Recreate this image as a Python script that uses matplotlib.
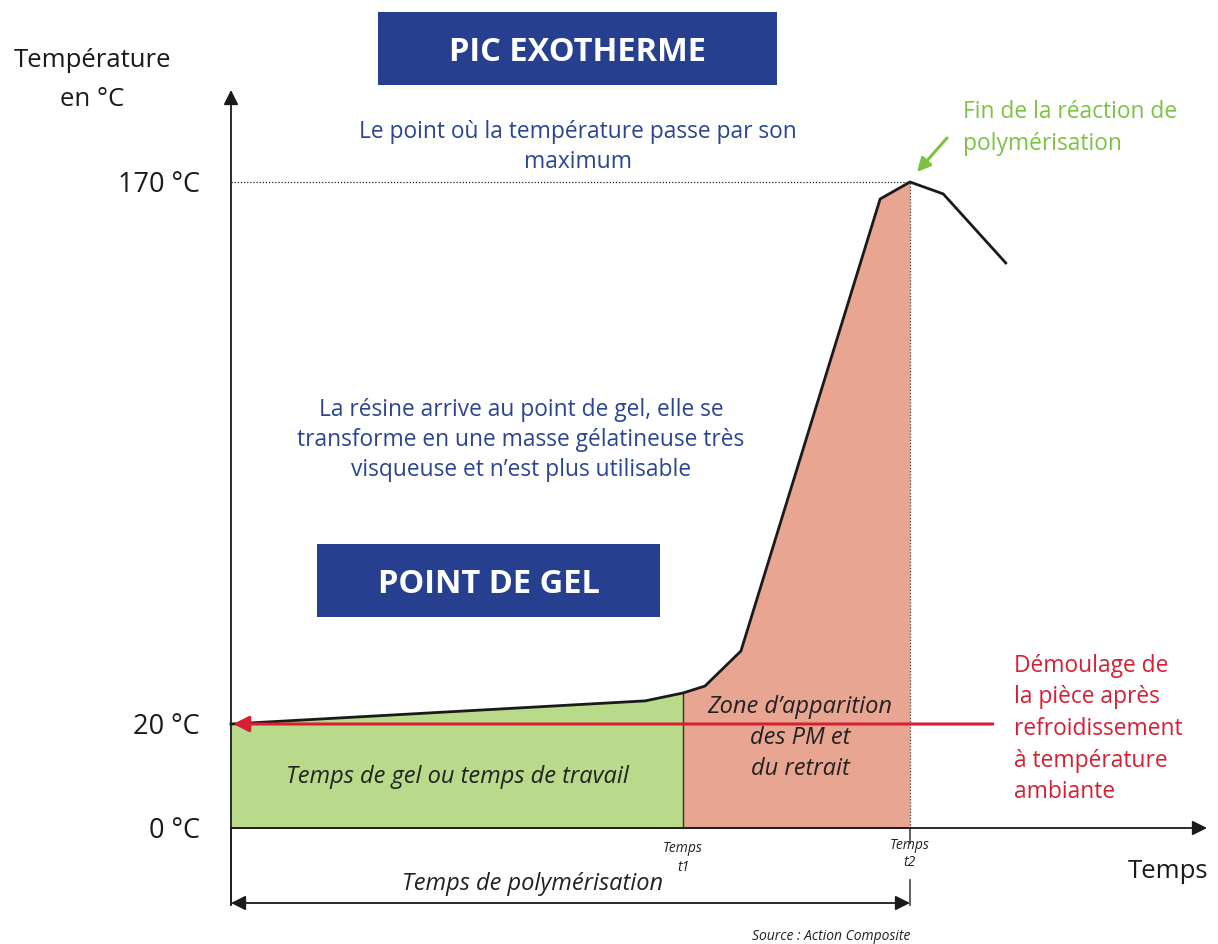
import matplotlib
matplotlib.use("Agg")
import matplotlib.pyplot as plt
from matplotlib.patches import Rectangle
from matplotlib.transforms import offset_copy
import numpy as np

# courbe de température (temps en unités arbitraires, t2 = 100)
temps = [0, 61.0, 66.6, 69.8, 75.1, 95.6, 100, 104.9, 114.1]
temperature = [20, 26.4, 28.6, 30.5, 40.2, 165.3, 170, 166.7, 147.6]
t1 = 66.6
t2 = 100
t_demoulage = 112.2
graduations = [0, 20, 170]
graduations_labels = ["0 °C", "20 °C", "170 °C"]
T_ambiante = 20
T_pic = 170

W, H = 1218, 944
BLEU = "#263f8e"
BLEU_TXT = "#2b4592"
VERT = "#7dc242"
ROUGE = "#d71f33"
FOND_VERT = "#b9d98b"
FOND_SAUMON = "#e8a592"
GRIS = "#555555"

plt.rcParams['font.family'] = ['Open Sans', 'DejaVu Sans']


# échelle non linéaire (le schéma n'est pas à l'échelle)
def forward(T):
    T = np.asarray(T, dtype=float)
    return np.where(T < 20, T * 5.2, 104 + (T - 20) * 542 / 150)


def inverse(p):
    p = np.asarray(p, dtype=float)
    return np.where(p < 104, p / 5.2, 20 + (p - 104) * 150 / 542)


def px(x, y):
    # position en pixels de la figure -> coordonnées figure
    return (x / W, 1 - y / H)


fig = plt.figure(figsize=(W / 100, H / 100), dpi=100)
ax = fig.add_axes([0, 0, 1, 1])
ax.set_yscale('function', functions=(forward, inverse))
ax.set_xlim(-231 / 6.79, (W - 231) / 6.79)
ax.set_ylim(float(inverse(-116)), float(inverse(828)))
ax.axis('off')

# zones colorées
i1 = temps.index(t1)
i2 = temps.index(t2)
ax.fill_between(temps[:i1 + 1], temperature[:i1 + 1], 0, color=FOND_VERT, lw=0)
ax.fill_between(temps[i1:i2 + 1], temperature[i1:i2 + 1], 0, color=FOND_SAUMON, lw=0)
ax.plot([t1, t1], [0, temperature[i1]], color="#333333", lw=1)
ax.plot([0, t2], [T_pic, T_pic], color="#222222", lw=0.9, ls=(0, (1, 1.5)))
ax.plot([t2, t2], [0, T_pic], color="#444444", lw=0.9, ls=(0, (1, 1.5)))

# courbe
ax.plot(temps, temperature, color="#1a1a1a", lw=2, solid_joinstyle='miter')

# axes
y_bas = float(inverse(-77))
ax.annotate("", xy=(0, float(inverse(738))), xytext=(0, y_bas),
            arrowprops=dict(arrowstyle='-|>', color="#1a1a1a", lw=1.3, mutation_scale=22,
                            shrinkA=0, shrinkB=0))
ax.annotate("", xy=((1207 - 231) / 6.79, 0), xytext=(0, 0),
            arrowprops=dict(arrowstyle='-|>', color="#1a1a1a", lw=1.3, mutation_scale=22,
                            shrinkA=0, shrinkB=0))
ax.plot([0, 0], [0, y_bas], color=GRIS, lw=1.3)
ax.plot([0, t2], [0, 0], color=GRIS, lw=1.3)
ax.plot([t2, t2], [0, float(inverse(-15))], color=GRIS, lw=1.3)
ax.plot([t2, t2], [float(inverse(-52)), y_bas], color=GRIS, lw=1.3)

# temps de polymérisation
ax.annotate("", xy=(0, float(inverse(-75))), xytext=(t2, float(inverse(-75))),
            arrowprops=dict(arrowstyle='<|-|>', color="#1a1a1a", lw=1.3, mutation_scale=22,
                            shrinkA=0, shrinkB=0))

# démoulage
ax.annotate("", xy=(0.3, T_ambiante), xytext=(t_demoulage, T_ambiante),
            arrowprops=dict(arrowstyle='-|>', color=ROUGE, lw=2.2, mutation_scale=24,
                            shrinkA=0, shrinkB=0))

# graduations (légèrement décalées vers le bas comme sur le schéma)
decale = offset_copy(ax.transData, fig=fig, x=0, y=-3, units='dots')
for g, lab in zip(graduations, graduations_labels):
    ax.text(-31 / 6.79, g, lab, ha='right', va='center', fontsize=19.5, color="#1a1a1a",
            transform=decale)

tf = fig.transFigure
fig.text(*px(92, 80), "Température\nen °C", ha='center', va='center', fontsize=18.5,
         color="#1a1a1a", linespacing=1.75)
fig.text(*px(1168, 872), "Temps", ha='center', va='center', fontsize=18.5, color="#1a1a1a")

# encadrés
for (x0, y0, x1, y1), lab in [((378, 12, 777, 85), "PIC EXOTHERME"),
                              ((317, 544, 660, 617), "POINT DE GEL")]:
    fig.patches.append(Rectangle(px(x0, y1), (x1 - x0) / W, (y1 - y0) / H,
                                 transform=tf, color=BLEU, lw=0))
    fig.text(*px((x0 + x1) / 2, (y0 + y1) / 2 + 4), lab, ha='center', va='center',
             fontsize=23.5, fontweight='bold', color='white')

fig.text(*px(578, 147), "Le point où la température passe par son\nmaximum",
         ha='center', va='center', fontsize=16.4, color=BLEU_TXT, linespacing=1.35)
fig.text(*px(521, 440),
         "La résine arrive au point de gel, elle se\ntransforme en une masse gélatineuse très\n"
         "visqueuse et n’est plus utilisable",
         ha='center', va='center', fontsize=16.4, color=BLEU_TXT, linespacing=1.35)
fig.text(*px(963, 128), "Fin de la réaction de\npolymérisation", ha='left', va='center',
         fontsize=16.4, color=VERT, linespacing=1.42)
fig.text(*px(1014, 729),
         "Démoulage de\nla pièce après\nrefroidissement\nà température\nambiante",
         ha='left', va='center', fontsize=16.4, color=ROUGE, linespacing=1.42)
ax.annotate("", xy=px(917, 172), xytext=px(947, 138), xycoords=tf, textcoords=tf,
            arrowprops=dict(arrowstyle='-|>', color=VERT, lw=2.2, mutation_scale=20,
                            shrinkA=0, shrinkB=0))

fig.text(*px(457, 777), "Temps de gel ou temps de travail", ha='center', va='center',
         fontsize=17, style='italic', color="#222222")
fig.text(*px(800, 738), "Zone d’apparition\ndes PM et\ndu retrait", ha='center', va='center',
         fontsize=17, style='italic', color="#222222", linespacing=1.4)
fig.text(*px(683, 858), "Temps\nt1", ha='center', va='center', fontsize=10,
         style='italic', color="#222222", linespacing=1.45)
fig.text(*px(910, 854), "Temps\nt2", ha='center', va='center', fontsize=10,
         style='italic', color="#222222", linespacing=1.25)
fig.text(*px(533, 884), "Temps de polymérisation", ha='center', va='center',
         fontsize=17, style='italic', color="#222222")
fig.text(*px(831, 936), "Source : Action Composite", ha='center', va='center',
         fontsize=10, style='italic', color="#222222")

fig.savefig("out.png", dpi=100)
